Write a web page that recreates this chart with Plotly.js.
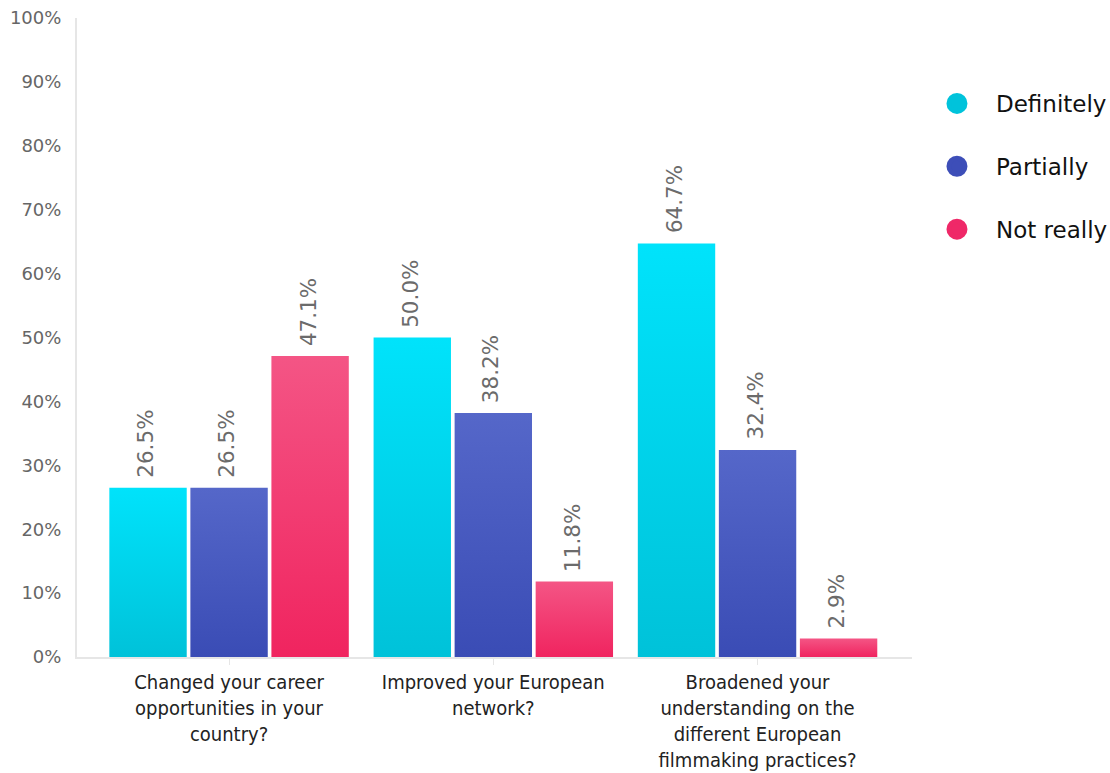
<!DOCTYPE html>
<html><head><meta charset="utf-8">
<script src="https://cdn.plot.ly/plotly-3.0.1.min.js"></script>
<style>html,body{margin:0;padding:0;background:#fff}#chart{width:1110px;height:773px}</style>
</head><body><div id="chart"></div>
<script>
const categories = [
  "Changed your career<br>opportunities in your<br>country?",
  "Improved your European<br>network?",
  "Broadened your<br>understanding on the<br>different European<br>filmmaking practices?"
];
const seriesNames = ["Definitely", "Partially", "Not really"];
const definitely = [26.5, 50.0, 64.7];
const partially = [26.5, 38.2, 32.4];
const notReally = [47.1, 11.8, 2.9];
const seriesValues = [definitely, partially, notReally];
const legendColors = ["#00C3DB", "#3D4EB8", "#EF2868"];
const gradTop = ["#00E3FB", "#5567C9", "#F45585"];
const gradBottom = ["#00C2D9", "#3A4CB5", "#F0245F"];
const yTicks = [0,10,20,30,40,50,60,70,80,90,100];

const traces = [];
seriesValues.forEach((vals, i) => {
  traces.push({
    type: 'bar', x: categories, y: vals, name: seriesNames[i],
    marker: {color: legendColors[i]}, showlegend: false, hoverinfo: 'skip'
  });
});
seriesValues.forEach((vals, i) => {
  traces.push({
    type: 'scatter', mode: 'markers', x: [categories[0]], y: [null], name: seriesNames[i],
    legendgroup: 'g' + i,
    marker: {color: legendColors[i], size: 16, symbol: 'circle', line: {color: legendColors[i], width: 5}},
    showlegend: true, hoverinfo: 'skip'
  });
});

const slot = 81; // px between grouped bars
const annotations = [];
seriesValues.forEach((vals, i) => {
  vals.forEach((v, j) => {
    annotations.push({
      x: categories[j], y: v, xref: 'x', yref: 'y',
      text: v.toFixed(1) + '%', showarrow: false, textangle: -90,
      xanchor: 'center', yanchor: 'bottom', xshift: (i - 1) * slot - 2, yshift: 8,
      font: {family: 'DejaVu Sans', size: 21.5, color: '#6b6b6b'}
    });
  });
});

const layout = {
  width: 1110, height: 773,
  margin: {l: 77, r: 198, t: 18, b: 116},
  paper_bgcolor: '#fff', plot_bgcolor: '#fff',
  barmode: 'group', bargap: 0.08, bargroupgap: 0.045,
  xaxis: {
    type: 'category', range: [-0.5755, 2.5845],
    showline: true, linecolor: '#e6e6e6', linewidth: 2,
    ticks: 'outside', ticklen: 6, tickcolor: '#e6e6e6', tickwidth: 1,
    tickfont: {family: 'Liberation Sans Narrow, DejaVu Sans Condensed', size: 20, color: '#222'},
    showgrid: false, zeroline: false, fixedrange: true
  },
  yaxis: {
    range: [0, 100], tickvals: yTicks, ticktext: yTicks.map(t => t + '%'),
    showline: true, linecolor: '#e6e6e6', linewidth: 2,
    ticks: '', ticklabelstandoff: 10,
    tickfont: {family: 'DejaVu Sans', size: 18, color: '#666'},
    showgrid: false, zeroline: false, fixedrange: true
  },
  legend: {
    xref: 'container', yref: 'container',
    x: 0.827, y: 0.894, xanchor: 'left', yanchor: 'top',
    itemwidth: 68,
    font: {family: 'DejaVu Sans', size: 23, color: '#111'},
    tracegroupgap: 30, itemclick: false, bgcolor: 'rgba(0,0,0,0)'
  },
  annotations: annotations,
  showlegend: true
};

Plotly.newPlot('chart', traces, layout, {displayModeBar: false, staticPlot: true}).then(gd => {
  const svg = gd.querySelector('svg.main-svg');
  const ns = 'http://www.w3.org/2000/svg';
  let defs = svg.querySelector('defs');
  if (!defs) { defs = document.createElementNS(ns, 'defs'); svg.insertBefore(defs, svg.firstChild); }
  gradTop.forEach((c, i) => {
    const lg = document.createElementNS(ns, 'linearGradient');
    lg.setAttribute('id', 'bargrad' + i);
    lg.setAttribute('x1', '0'); lg.setAttribute('y1', '0');
    lg.setAttribute('x2', '0'); lg.setAttribute('y2', '1');
    const s1 = document.createElementNS(ns, 'stop');
    s1.setAttribute('offset', '0'); s1.setAttribute('stop-color', c);
    const s2 = document.createElementNS(ns, 'stop');
    s2.setAttribute('offset', '1'); s2.setAttribute('stop-color', gradBottom[i]);
    lg.appendChild(s1); lg.appendChild(s2); defs.appendChild(lg);
  });
  const traceGroups = gd.querySelectorAll('.barlayer .trace.bars');
  traceGroups.forEach((tg, i) => {
    tg.querySelectorAll('.point path').forEach(p => { p.style.fill = 'url(#bargrad' + i + ')'; });
  });
});
</script></body></html>
